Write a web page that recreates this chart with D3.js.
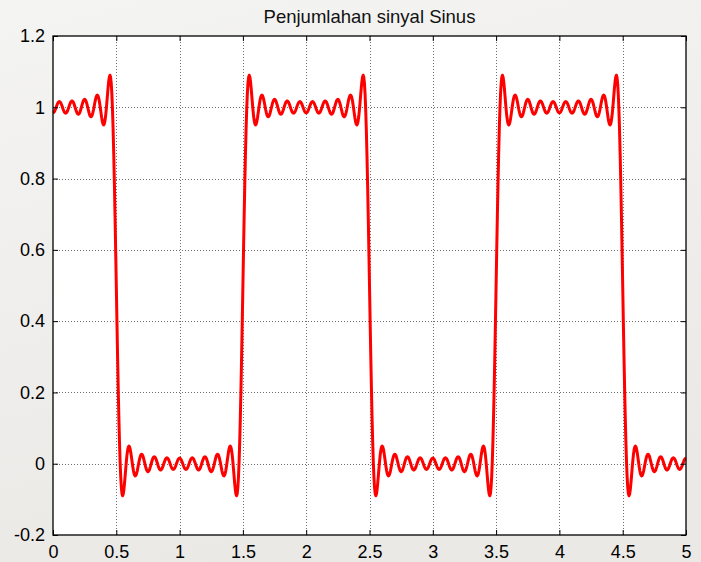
<!DOCTYPE html>
<html>
<head>
<meta charset="utf-8">
<script src="https://cdn.jsdelivr.net/npm/d3@7"></script>
<style>
  html, body { margin: 0; padding: 0; }
  body { width: 701px; height: 562px; overflow: hidden; }
  svg { display: block; font-family: "Liberation Sans", Arial, sans-serif; }
</style>
</head>
<body>
<svg id="chart" width="701" height="562"></svg>
<script>
// Sum of sine components: odd harmonics of a period-2 signal plus an offset
const title = "Penjumlahan sinyal Sinus";
const offset = 0.5;
const harmonics = [1, 3, 5, 7, 9, 11, 13, 15, 17, 19];
const amplitudes = [0.6366, -0.2122, 0.1273, -0.0909, 0.0707, -0.0579, 0.0490, -0.0424, 0.0374, -0.0335];
const xTicks = [0, 0.5, 1, 1.5, 2, 2.5, 3, 3.5, 4, 4.5, 5];
const yTicks = [-0.2, 0, 0.2, 0.4, 0.6, 0.8, 1, 1.2];
const xDomain = [0, 5];
const yDomain = [-0.2, 1.2];
const sampleStep = 0.005;

const svg = d3.select("#chart");
const W = 701, H = 562;
const m = { left: 53, right: 15, top: 36, bottom: 27 };

// page background
const defs = svg.append("defs");
const bg = defs.append("linearGradient").attr("id", "bg")
  .attr("x1", "0").attr("y1", "0").attr("x2", "0.3").attr("y2", "1");
bg.append("stop").attr("offset", "0").attr("stop-color", "#f4f4f3");
bg.append("stop").attr("offset", "1").attr("stop-color", "#ebe9e6");
svg.append("rect").attr("width", W).attr("height", H).attr("fill", "url(#bg)");

const x = d3.scaleLinear().domain(xDomain).range([m.left, W - m.right]);
const y = d3.scaleLinear().domain(yDomain).range([H - m.bottom, m.top]);

const x0 = x.range()[0], x1 = x.range()[1];
const y0 = y.range()[1], y1 = y.range()[0];

// plot area
svg.append("rect").attr("x", x0).attr("y", y0)
  .attr("width", x1 - x0).attr("height", y1 - y0).attr("fill", "#ffffff");

// dotted grid
const grid = svg.append("g").attr("stroke", "#6e6e6e").attr("stroke-width", 1)
  .attr("stroke-dasharray", "1,2").attr("shape-rendering", "crispEdges");
grid.selectAll("line.gx").data(xTicks.slice(1, -1)).join("line")
  .attr("x1", d => Math.round(x(d)) + 0.5).attr("x2", d => Math.round(x(d)) + 0.5)
  .attr("y1", y0).attr("y2", y1);
grid.selectAll("line.gy").data(yTicks.slice(1, -1)).join("line")
  .attr("y1", d => Math.round(y(d)) + 0.5).attr("y2", d => Math.round(y(d)) + 0.5)
  .attr("x1", x0).attr("x2", x1);

// signal samples
const xs = d3.range(xDomain[0], xDomain[1] + sampleStep / 2, sampleStep);
const signal = xs.map(t => ({
  t,
  v: offset + d3.sum(harmonics, (n, i) => amplitudes[i] * Math.cos(n * Math.PI * t))
}));

svg.append("path").datum(signal)
  .attr("fill", "none").attr("stroke", "#ff0000").attr("stroke-width", 3)
  .attr("stroke-linejoin", "round")
  .attr("d", d3.line().x(d => x(d.t)).y(d => y(d.v)));

// axes with inward ticks on all four sides
const tickLen = 5;
const fmt = d => String(+d.toFixed(2));
const axB = svg.append("g").attr("transform", `translate(0,${y1})`)
  .call(d3.axisBottom(x).tickValues(xTicks).tickSize(-tickLen).tickPadding(9).tickFormat(fmt));
const axT = svg.append("g").attr("transform", `translate(0,${y0})`)
  .call(d3.axisTop(x).tickValues(xTicks).tickSize(-tickLen).tickFormat(""));
const axL = svg.append("g").attr("transform", `translate(${x0},0)`)
  .call(d3.axisLeft(y).tickValues(yTicks).tickSize(-tickLen).tickPadding(8).tickFormat(fmt));
const axR = svg.append("g").attr("transform", `translate(${x1},0)`)
  .call(d3.axisRight(y).tickValues(yTicks).tickSize(-tickLen).tickFormat(""));

[axB, axT, axL, axR].forEach(a => {
  a.select(".domain").remove();
  a.selectAll("line").attr("stroke", "#000").attr("stroke-width", 1);
  a.selectAll("text").attr("fill", "#000").style("font-size", "18px")
    .style("font-family", "'Liberation Sans', Arial, sans-serif");
});
axB.selectAll("text").attr("dy", "0.75em");

// axes box
svg.append("rect").attr("x", x0).attr("y", y0)
  .attr("width", x1 - x0).attr("height", y1 - y0)
  .attr("fill", "none").attr("stroke", "#000").attr("stroke-width", 1.3);

// title
svg.append("text").attr("x", (x0 + x1) / 2).attr("y", 23)
  .attr("text-anchor", "middle").attr("fill", "#111")
  .style("font-size", "18.5px").text(title);
</script>
</body>
</html>
